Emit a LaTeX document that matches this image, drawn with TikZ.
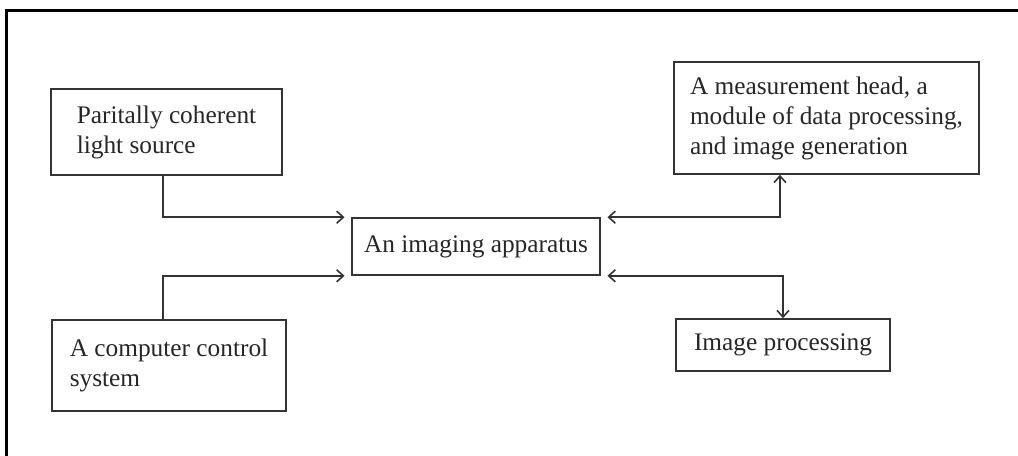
\documentclass[tikz,border=0pt]{standalone}
\usepackage{fontspec}
\setmainfont{Liberation Serif}
\usetikzlibrary{arrows.meta}

\tikzset{
  blk/.style={draw=black!80, line width=1.2pt, align=left, inner sep=0pt,
    font=\fontsize{19}{22.5}\selectfont, text=black!85},
  link/.style={draw=black!80, line width=1.2pt},
  >={Straight Barb[length=5pt,width=9pt]}
}

\begin{document}
\begin{tikzpicture}[x=0.75pt, y=-0.75pt]
  \useasboundingbox (0,0) rectangle (1018,455);
  \draw[line width=2.2pt] (6.5,470) -- (6.5,10.3) -- (1030,10.3);

  \node[blk, minimum width=173.25pt, minimum height=64.5pt] (src) at (166.5,132)
    {Paritally coherent\\light source};
  \node[blk, minimum width=175.5pt, minimum height=68.25pt] (ctl) at (169,365.5)
    {A computer control\\system};
  \node[blk, minimum width=186pt, minimum height=42.75pt] (app) at (476,246.5)
    {An imaging apparatus};
  \node[blk, minimum width=228.75pt, minimum height=84pt] (head) at (826.5,118)
    {A measurement head, a\\module of data processing,\\and image generation};
  \node[blk, minimum width=160.5pt, minimum height=39pt] (proc) at (783,345)
    {Image processing};

  \draw[link, ->] ([xshift=-2.6pt]src.south) |- ([xshift=-5pt]app.north west);
  \draw[link, ->] ([xshift=-4.5pt]ctl.north) |- ([xshift=-5pt]app.south west);
  \draw[link, <->] ([xshift=5pt]app.north east) -| ([xshift=-34.9pt]head.south);
  \draw[link, <->] ([xshift=5pt]app.south east) -| (proc.north);
\end{tikzpicture}
\end{document}
